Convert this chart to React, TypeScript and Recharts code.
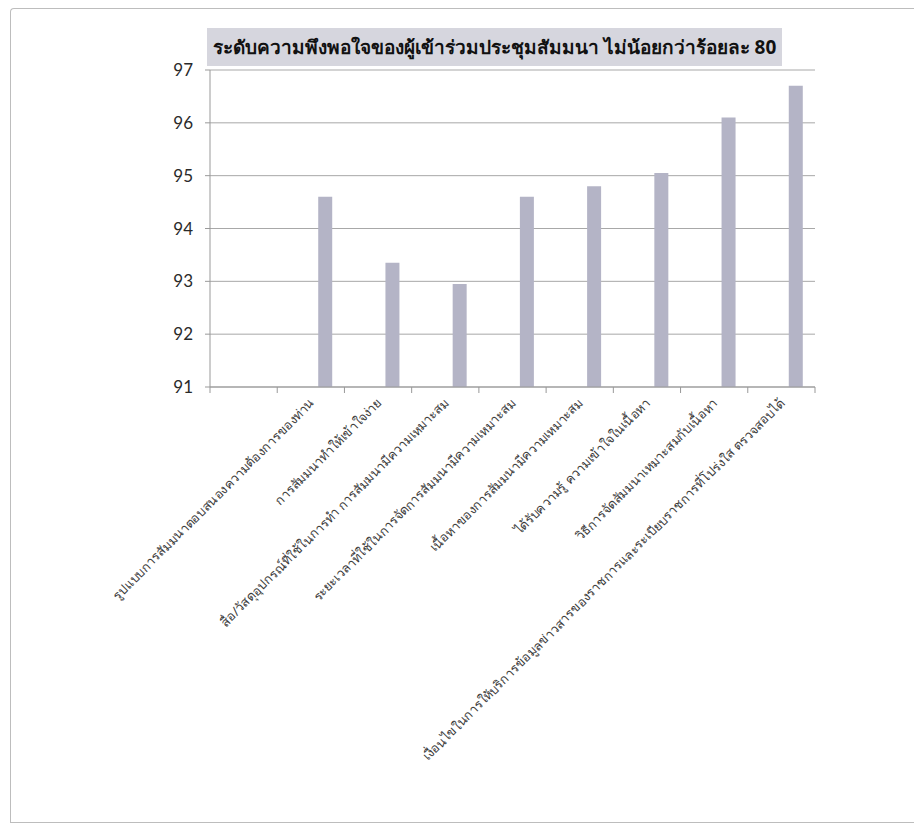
import React from "react";
import { BarChart, Bar, XAxis, YAxis, CartesianGrid } from "recharts";

const categories: string[] = [
  "",
  "รูปแบบการสัมมนาตอบสนองความต้องการของท่าน",
  "การสัมมนาทำให้เข้าใจง่าย",
  "สื่อ/วัสดุอุปกรณ์ที่ใช้ในการทำ การสัมมนามีความเหมาะสม",
  "ระยะเวลาที่ใช้ในการจัดการสัมมนามีความเหมาะสม",
  "เนื้อหาของการสัมมนามีความเหมาะสม",
  "ได้รับความรู้ ความเข้าใจในเนื้อหา",
  "วิธีการจัดสัมมนาเหมาะสมกับเนื้อหา",
  "เงื่อนไขในการให้บริการข้อมูลข่าวสารของราชการและระเบียบราชการที่โปร่งใส ตรวจสอบได้",
];
const satisfaction: (number | null)[] = [null, 94.6, 93.35, 92.95, 94.6, 94.8, 95.05, 96.1, 96.7];
const blankSeries: (number | null)[] = [null, null, null, null, null, null, null, null, null];
const yTicks: number[] = [91, 92, 93, 94, 95, 96, 97];
const titleText = "ระดับความพึงพอใจของผู้เข้าร่วมประชุมสัมมนา ไม่น้อยกว่าร้อยละ 80";

const data = categories.map((name, i) => ({
  name,
  blank: blankSeries[i],
  value: satisfaction[i],
}));

const CHART_W = 915;
const CHART_H = 825;
const X_AXIS_H = 30;
const MARGIN = { top: 70, right: 100, left: 160, bottom: 438 - X_AXIS_H };
const Y_AXIS_W = 50;
const PLOT_W = CHART_W - MARGIN.left - MARGIN.right - Y_AXIS_W;
const BAND = PLOT_W / categories.length;

const XTick = (props: any) => {
  const { x, y, payload, index } = props;
  return (
    <g transform={`translate(${x},${y})`}>
      {index === 0 && (
        <line x1={-BAND / 2} y1={0} x2={-BAND / 2} y2={6} stroke="#999" strokeWidth={1} />
      )}
      <line x1={BAND / 2} y1={0} x2={BAND / 2} y2={6} stroke="#999" strokeWidth={1} />
      <text
        x={0}
        y={0}
        transform="translate(4,17) rotate(-45)"
        textAnchor="end"
        fontSize={12.8}
        fill="#3a3a3a"
        fontFamily="'Noto Sans', 'DejaVu Sans', sans-serif"
      >
        {payload.value}
      </text>
    </g>
  );
};

export default function App() {
  return (
    <div style={{ position: "absolute", left: 0, top: 0, width: CHART_W, height: CHART_H, background: "#fff" }}>
      <div
        style={{
          position: "absolute",
          left: 10,
          top: 8,
          width: 903,
          height: 813,
          borderLeft: "1px solid #bdbdbd",
          borderTop: "1px solid #bdbdbd",
          borderBottom: "1px solid #bdbdbd",
          borderTopLeftRadius: 4,
        }}
      />
      <BarChart
        width={CHART_W}
        height={CHART_H}
        data={data}
        margin={MARGIN}
        barGap={14}
        style={{ position: "absolute", left: 0, top: 0 }}
      >
        <CartesianGrid vertical={false} stroke="#a8a8a8" strokeWidth={1} />
        <XAxis
          dataKey="name"
          height={X_AXIS_H}
          interval={0}
          tickLine={false}
          tickSize={0}
          tickMargin={0}
          axisLine={{ stroke: "#999" }}
          tick={<XTick />}
        />
        <YAxis
          width={Y_AXIS_W}
          domain={[91, 97]}
          ticks={yTicks}
          interval={0}
          tickSize={5}
          tickMargin={12}
          axisLine={{ stroke: "#999" }}
          tickLine={{ stroke: "#999" }}
          tick={{ fontSize: 17, fill: "#2a2a2a", fontFamily: "Lato, 'Open Sans', sans-serif" }}
        />
        <Bar dataKey="blank" fill="#b4b4c6" barSize={14} isAnimationActive={false} />
        <Bar dataKey="value" fill="#b4b4c6" barSize={14} isAnimationActive={false} />
      </BarChart>
      <div
        style={{
          position: "absolute",
          left: 207,
          top: 28,
          width: 575,
          height: 38,
          background: "#d6d6de",
          display: "flex",
          alignItems: "center",
          justifyContent: "center",
          fontFamily: "'Noto Sans', 'DejaVu Sans', sans-serif",
          fontWeight: 700,
          fontSize: 19,
          color: "#111",
          whiteSpace: "nowrap",
        }}
      >
        {titleText}
      </div>
    </div>
  );
}
